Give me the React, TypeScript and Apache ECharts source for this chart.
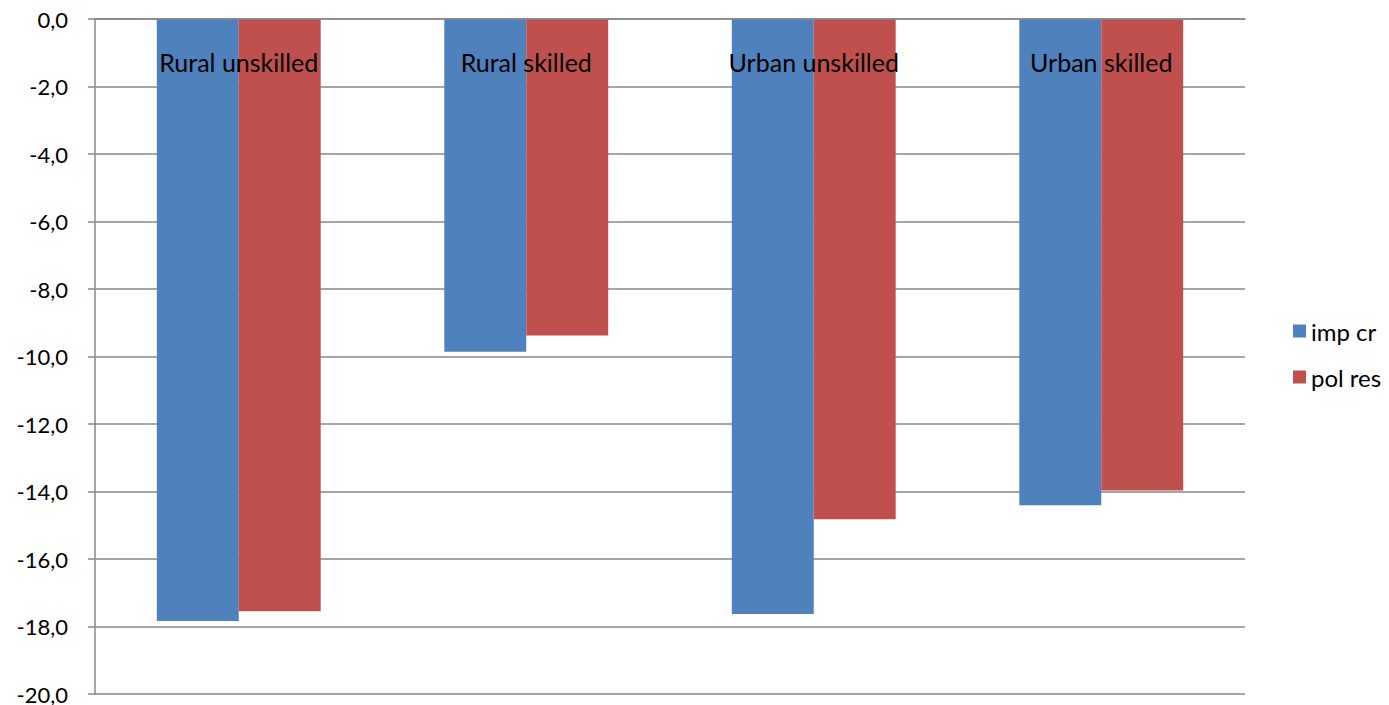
import React, { useEffect, useRef } from "react";
import * as echarts from "echarts";

const categories = ["Rural unskilled", "Rural skilled", "Urban unskilled", "Urban skilled"];
const impCr = [-17.84, -9.86, -17.63, -14.41];
const polRes = [-17.55, -9.38, -14.82, -13.97];
const seriesNames = ["imp cr", "pol res"];
const FONT = "Lato, sans-serif";

export default function App() {
  const ref = useRef<HTMLDivElement>(null);
  useEffect(() => {
    if (!ref.current) return;
    const chart = echarts.init(ref.current, null, { renderer: "svg" });
    chart.setOption({
      animation: false,
      textStyle: { fontFamily: FONT },
      grid: { left: 95, right: 144, top: 19, bottom: 9, containLabel: false },
      legend: {
        orient: "vertical",
        left: 1288,
        top: 314,
        itemWidth: 13,
        itemHeight: 13,
        itemGap: 22,
        icon: "rect",
        textStyle: { fontSize: 24, color: "#000", fontFamily: FONT },
        data: seriesNames,
      },
      xAxis: {
        type: "category",
        position: "top",
        data: categories,
        z: 10,
        axisLine: { lineStyle: { color: "#888", width: 1.5 } },
        axisTick: { inside: true, length: 6, lineStyle: { color: "#888", width: 1.5 } },
        axisLabel: { inside: true, margin: 30, fontSize: 25, color: "#000", fontFamily: FONT },
        splitLine: { show: false },
      },
      yAxis: {
        type: "value",
        min: -20,
        max: 0,
        interval: 2,
        axisLine: { show: true, lineStyle: { color: "#888", width: 1.5 } },
        axisTick: { show: true, length: 7, lineStyle: { color: "#888", width: 1.5 } },
        axisLabel: {
          fontSize: 22,
          color: "#000",
          margin: 27,
          fontFamily: FONT,
          formatter: (v: number) => v.toFixed(1).replace(".", ","),
        },
        splitLine: { lineStyle: { color: "#888", width: 1.5 } },
      },
      series: [
        {
          name: seriesNames[0],
          type: "bar",
          data: impCr,
          barGap: "0%",
          barCategoryGap: "43%",
          itemStyle: { color: "#4F81BD" },
        },
        {
          name: seriesNames[1],
          type: "bar",
          data: polRes,
          barGap: "0%",
          barCategoryGap: "43%",
          itemStyle: { color: "#C0504D" },
        },
      ],
    });
    return () => chart.dispose();
  }, []);
  return (
    <div
      ref={ref}
      style={{ position: "fixed", left: 0, top: 0, width: 1389, height: 705, background: "#fff" }}
    />
  );
}
